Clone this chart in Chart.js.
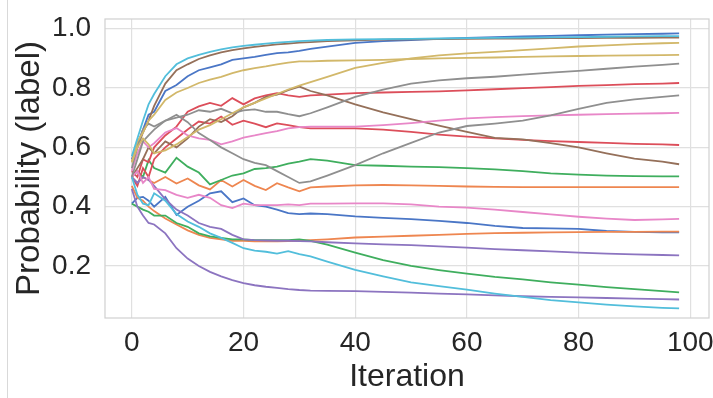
<!DOCTYPE html>
<html>
<head>
<meta charset="utf-8">
<script src="https://cdn.jsdelivr.net/npm/chart.js@4/dist/chart.umd.min.js"></script>
<style>
  html, body { margin: 0; padding: 0; background: #ffffff; }
  #wrap { position: relative; width: 713px; height: 398px; overflow: hidden; }
  #edge { position: absolute; left: 7px; top: 0; width: 0; height: 398px; border-left: 1px solid #d9d9d9; }
  canvas { position: absolute; left: 0; top: 0; }
</style>
</head>
<body>
<div id="wrap"><div id="edge"></div><canvas id="c" width="713" height="398"></canvas></div>
<script>
// Sampled iterations (x values)
const iterations = [0,1,2,3,4,6,8,10,12,14,16,18,20,22,24,26,28,30,32,35,40,45,50,55,60,65,70,75,80,85,90,95,98];

// Series values (probability of label)
const blueA   = [0.56,0.61,0.66,0.71,0.72,0.79,0.81,0.84,0.86,0.87,0.88,0.895,0.90,0.905,0.912,0.918,0.92,0.925,0.932,0.94,0.952,0.958,0.962,0.966,0.969,0.972,0.974,0.976,0.978,0.98,0.982,0.983,0.984];
const blueB   = [0.41,0.43,0.433,0.42,0.40,0.433,0.372,0.40,0.42,0.445,0.452,0.415,0.428,0.405,0.40,0.39,0.378,0.375,0.377,0.375,0.367,0.362,0.358,0.352,0.345,0.335,0.328,0.327,0.325,0.318,0.315,0.313,0.313];
const orangeA = [0.50,0.48,0.50,0.49,0.48,0.50,0.478,0.495,0.472,0.458,0.49,0.468,0.49,0.47,0.456,0.479,0.465,0.452,0.465,0.468,0.472,0.473,0.472,0.47,0.468,0.467,0.466,0.466,0.466,0.466,0.466,0.466,0.466];
const orangeB = [0.47,0.43,0.42,0.40,0.385,0.36,0.34,0.32,0.305,0.295,0.29,0.285,0.285,0.283,0.283,0.283,0.284,0.285,0.287,0.29,0.296,0.299,0.302,0.305,0.308,0.311,0.312,0.313,0.314,0.315,0.315,0.316,0.316];
const greenA  = [0.50,0.52,0.50,0.557,0.53,0.515,0.565,0.535,0.515,0.475,0.49,0.505,0.512,0.527,0.53,0.535,0.545,0.552,0.56,0.555,0.54,0.538,0.535,0.533,0.53,0.526,0.52,0.512,0.508,0.505,0.503,0.502,0.502];
const greenB  = [0.41,0.40,0.39,0.383,0.37,0.37,0.345,0.332,0.31,0.30,0.295,0.29,0.29,0.287,0.287,0.287,0.287,0.29,0.285,0.272,0.245,0.22,0.20,0.186,0.174,0.163,0.155,0.145,0.137,0.129,0.122,0.115,0.111];
const redA    = [0.52,0.50,0.56,0.55,0.60,0.64,0.67,0.72,0.738,0.75,0.74,0.766,0.745,0.765,0.775,0.783,0.775,0.77,0.775,0.778,0.783,0.785,0.787,0.789,0.792,0.796,0.80,0.803,0.807,0.81,0.813,0.815,0.817];
const redB    = [0.50,0.47,0.53,0.50,0.56,0.60,0.63,0.66,0.687,0.68,0.704,0.676,0.69,0.68,0.668,0.681,0.675,0.668,0.664,0.664,0.664,0.66,0.652,0.643,0.636,0.63,0.625,0.621,0.618,0.615,0.612,0.61,0.608];
const purpleA = [0.50,0.48,0.50,0.49,0.47,0.425,0.39,0.37,0.345,0.332,0.325,0.305,0.29,0.287,0.286,0.285,0.285,0.284,0.283,0.28,0.276,0.273,0.27,0.266,0.262,0.257,0.253,0.249,0.245,0.242,0.239,0.237,0.236];
const purpleB = [0.46,0.40,0.37,0.345,0.34,0.31,0.26,0.225,0.20,0.18,0.165,0.152,0.142,0.135,0.13,0.126,0.122,0.119,0.117,0.116,0.115,0.113,0.11,0.107,0.104,0.101,0.098,0.096,0.094,0.092,0.09,0.088,0.087];
const brownA  = [0.55,0.60,0.65,0.69,0.74,0.815,0.86,0.88,0.898,0.91,0.92,0.928,0.934,0.939,0.943,0.947,0.95,0.953,0.955,0.958,0.961,0.963,0.964,0.965,0.966,0.967,0.967,0.968,0.968,0.969,0.969,0.97,0.97];
const brownB  = [0.50,0.53,0.56,0.60,0.58,0.62,0.60,0.63,0.67,0.695,0.685,0.705,0.735,0.75,0.77,0.778,0.793,0.805,0.79,0.775,0.745,0.718,0.695,0.673,0.652,0.632,0.627,0.614,0.60,0.58,0.562,0.552,0.543];
const pinkA   = [0.52,0.58,0.62,0.60,0.614,0.65,0.665,0.64,0.63,0.625,0.61,0.62,0.633,0.64,0.648,0.655,0.664,0.668,0.67,0.67,0.67,0.675,0.682,0.69,0.698,0.702,0.705,0.708,0.71,0.712,0.714,0.715,0.716];
const pinkB   = [0.50,0.52,0.48,0.50,0.46,0.456,0.44,0.43,0.44,0.43,0.405,0.395,0.41,0.405,0.405,0.405,0.408,0.405,0.41,0.41,0.411,0.411,0.408,0.40,0.397,0.39,0.382,0.374,0.366,0.36,0.355,0.357,0.359];
const grayA   = [0.53,0.60,0.66,0.68,0.67,0.69,0.70,0.71,0.725,0.72,0.73,0.715,0.725,0.728,0.72,0.72,0.712,0.705,0.715,0.735,0.77,0.795,0.815,0.826,0.833,0.838,0.845,0.852,0.858,0.865,0.872,0.878,0.882];
const grayB   = [0.50,0.56,0.62,0.64,0.66,0.69,0.71,0.685,0.648,0.625,0.60,0.58,0.56,0.548,0.54,0.52,0.50,0.48,0.485,0.505,0.54,0.58,0.615,0.65,0.672,0.68,0.69,0.708,0.73,0.75,0.762,0.77,0.775];
const oliveA  = [0.55,0.62,0.65,0.69,0.71,0.76,0.785,0.80,0.817,0.828,0.838,0.85,0.86,0.867,0.873,0.88,0.886,0.89,0.89,0.892,0.893,0.895,0.898,0.90,0.902,0.903,0.905,0.907,0.908,0.909,0.91,0.911,0.912];
const oliveB  = [0.55,0.60,0.63,0.61,0.58,0.59,0.61,0.635,0.66,0.675,0.695,0.715,0.735,0.75,0.765,0.78,0.795,0.808,0.82,0.838,0.868,0.885,0.90,0.91,0.917,0.922,0.928,0.934,0.94,0.944,0.948,0.951,0.952];
const cyanA   = [0.57,0.63,0.69,0.745,0.78,0.84,0.88,0.90,0.912,0.922,0.93,0.937,0.942,0.946,0.95,0.953,0.956,0.958,0.96,0.962,0.964,0.965,0.966,0.967,0.968,0.969,0.97,0.971,0.972,0.973,0.974,0.975,0.975];
const cyanB   = [0.50,0.44,0.41,0.405,0.445,0.42,0.375,0.35,0.332,0.31,0.295,0.278,0.26,0.252,0.248,0.242,0.25,0.24,0.232,0.215,0.187,0.165,0.145,0.132,0.12,0.107,0.096,0.085,0.077,0.07,0.064,0.059,0.057];

const xTicks = [0, 20, 40, 60, 80, 100];
const yTicks = [0.2, 0.4, 0.6, 0.8, 1.0];

const seriesList = [
  [blueA, '#4a76c6'], [blueB, '#4a76c6'],
  [orangeA, '#ee8650'], [orangeB, '#ee8650'],
  [greenA, '#3fae5e'], [greenB, '#3fae5e'],
  [redA, '#dc4e5a'], [redB, '#dc4e5a'],
  [purpleA, '#8c74c0'], [purpleB, '#8c74c0'],
  [brownA, '#95705a'], [brownB, '#95705a'],
  [pinkA, '#e887c8'], [pinkB, '#e887c8'],
  [grayA, '#8f8f8f'], [grayB, '#8f8f8f'],
  [oliveA, '#d2b86a'], [oliveB, '#d2b86a'],
  [cyanA, '#52bedb'], [cyanB, '#52bedb']
];

const datasets = seriesList.map(([vals, color], i) => ({
  data: iterations.map((x, k) => ({ x: x, y: vals[k] })),
  borderColor: color,
  borderWidth: 1.8,
  pointRadius: 0,
  tension: 0,
  fill: false,
  order: -i
}));

const frame = {
  id: 'frame',
  afterDraw(chart) {
    const { ctx, chartArea: a } = chart;
    ctx.save();
    ctx.strokeStyle = '#d0d0d0';
    ctx.lineWidth = 1.2;
    ctx.strokeRect(a.left, a.top, a.right - a.left, a.bottom - a.top);
    ctx.restore();
  }
};

const textColor = '#262626';
const fam = 'Liberation Sans, Arial, sans-serif';

new Chart(document.getElementById('c'), {
  type: 'line',
  data: { datasets },
  plugins: [frame],
  options: {
    responsive: false,
    animation: false,
    events: [],
    layout: { padding: { top: 19, right: 4, left: 0, bottom: 0 } },
    plugins: { legend: { display: false }, tooltip: { enabled: false } },
    scales: {
      x: {
        type: 'linear',
        min: -4.8,
        max: 103.35,
        afterBuildTicks: (s) => { s.ticks = xTicks.map(v => ({ value: v })); },
        afterFit: (s) => { s.height = 80; s.paddingLeft = 0; s.paddingRight = 0; },
        grid: { color: '#e0e0e0', lineWidth: 1.2, drawTicks: false },
        border: { display: false },
        ticks: { color: textColor, font: { family: fam, size: 28 }, padding: 8, maxRotation: 0, autoSkip: false },
        title: { display: true, text: 'Iteration', color: textColor, font: { family: fam, size: 32 }, padding: { top: 0, bottom: 2 } }
      },
      y: {
        type: 'linear',
        min: 0.0246,
        max: 1.0328,
        afterBuildTicks: (s) => { s.ticks = yTicks.map(v => ({ value: v })); },
        afterFit: (s) => { s.width = 105; s.paddingTop = 0; s.paddingBottom = 0; },
        grid: { color: '#e0e0e0', lineWidth: 1.2, drawTicks: false },
        border: { display: false },
        ticks: { color: textColor, font: { family: fam, size: 28 }, padding: 14, callback: (v) => Number(v).toFixed(1) },
        title: { display: true, text: 'Probability (label)', color: textColor, font: { family: fam, size: 33 }, padding: { top: 10, bottom: 0 } }
      }
    }
  }
});
</script>
</body>
</html>
